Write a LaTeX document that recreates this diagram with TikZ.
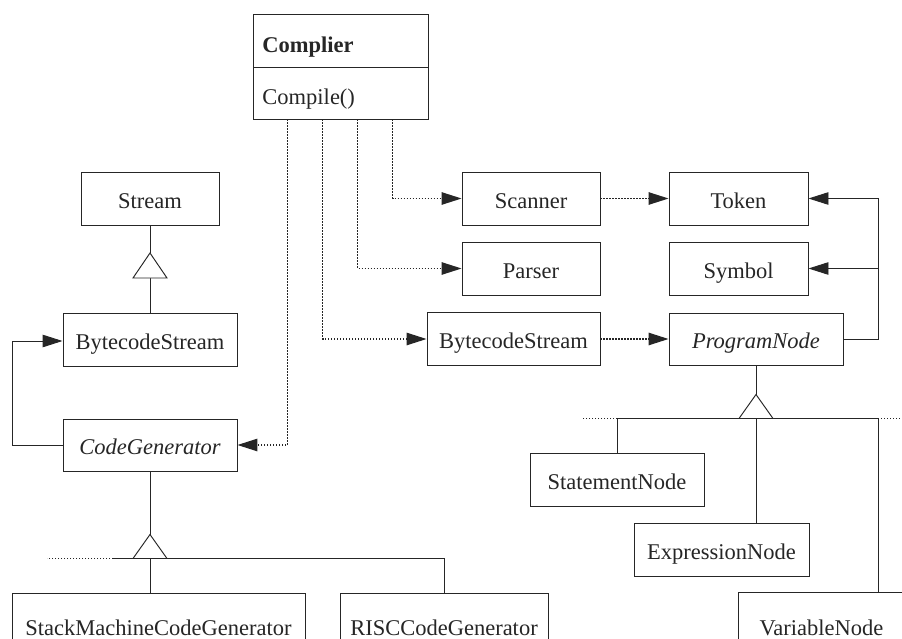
\documentclass[tikz,border=0pt]{standalone}
\usepackage{fontspec}
\setmainfont{Liberation Serif}
\usetikzlibrary{arrows.meta}
\definecolor{ink}{HTML}{262626}
\begin{document}
\begin{tikzpicture}[x=1pt,y=-1pt,
  line width=0.95pt,
  cls/.style={draw=ink, rectangle, inner sep=0pt, fill=white,
    text height=19.5pt, text depth=0pt,
    font=\fontsize{22.5}{26}\selectfont, text=ink},
  lbl/.style={anchor=base west, inner sep=0pt,
    font=\fontsize{22.5}{26}\selectfont, text=ink},
  link/.style={draw=ink},
  uses/.style={draw=ink, line width=1.1pt, dash pattern=on 1.4pt off 1.6pt},
  tip/.style={-{Triangle[length=20pt,width=12.5pt]}},
  gen/.style={draw=ink, fill=white, line join=miter}
]
\useasboundingbox (0,0) rectangle (902,639);
\clip (0,0) rectangle (902,639);
\fill[white] (0,0) rectangle (902,639);

% --- Compiler facade -------------------------------------------------
\node[cls, minimum width=175pt, minimum height=53pt] (compname) at (340.5,40.5) {};
\node[cls, minimum width=175pt, minimum height=52pt] (compops) at (340.5,93) {};
\node[lbl] (compnamelbl) at (262,53) {\bfseries Complier};
\node[lbl] (compopslbl) at (262,105) {Compile()};

% --- subsystem classes ------------------------------------------------
\node[cls, minimum width=138pt, minimum height=53pt] (stream)  at (150,199) {Stream};
\node[cls, minimum width=174pt, minimum height=53pt] (bsl)     at (150,339.5) {BytecodeStream};
\node[cls, minimum width=174pt, minimum height=52pt] (codegen) at (150,445) {\itshape CodeGenerator};

\node[cls, minimum width=138pt, minimum height=53pt] (scanner) at (531,198.5) {Scanner};
\node[cls, minimum width=138pt, minimum height=53pt] (parser)  at (531,268.5) {Parser};
\node[cls, minimum width=173pt, minimum height=53pt] (bsr)     at (513.5,339) {BytecodeStream};

\node[cls, minimum width=139pt, minimum height=53pt] (token)    at (738.5,198.5) {Token};
\node[cls, minimum width=139pt, minimum height=53pt] (symbol)   at (738.5,268.5) {Symbol};
\node[cls, minimum width=174pt, minimum height=52pt] (prognode) at (756,339) {\itshape ProgramNode};

\node[cls, minimum width=174pt, minimum height=53pt] (stmt)    at (617,479.5) {StatementNode};
\node[cls, minimum width=175pt, minimum height=53pt] (expr)    at (721.5,549.5) {ExpressionNode};
\node[cls, minimum width=167pt, minimum height=68pt] (varnode) at (821.5,626) {VariableNode};

\node[cls, minimum width=293pt, minimum height=66pt] (stack) at (158.5,626) {StackMachineCodeGenerator};
\node[cls, minimum width=208pt, minimum height=66pt] (risc)  at (444,626) {RISCCodeGenerator};

% --- dependencies of the compiler ------------------------------------
\coordinate (d1) at ([xshift=35pt]compops.south west);
\coordinate (d2) at ([xshift=70pt]compops.south west);
\coordinate (d3) at ([xshift=105pt]compops.south west);
\coordinate (d4) at ([xshift=140pt]compops.south west);

\draw[uses, tip] (d4) |- (scanner.west);
\draw[uses, tip] (d3) |- (parser.west);
\draw[uses, tip] (d2) |- (bsr.west);
\draw[uses, tip] (d1) |- (codegen.east);

\draw[uses, tip] (scanner.east) -- (token.west);
\draw[uses, tip] (bsr.east) -- (prognode.west);

% --- associations ----------------------------------------------------
\coordinate (rx) at (878,0);
\coordinate (lx) at (12,0);
\draw[link, tip] (prognode.east) -- (prognode.east -| rx) |- (token.east);
\draw[link, tip] (symbol.east -| rx) -- (symbol.east);
\draw[link, tip] (codegen.west) -- (codegen.west -| lx) |- ([yshift=-1.5pt]bsl.west);

% --- Stream hierarchy --------------------------------------------------
\coordinate (t1) at (150,278);
\path (t1) ++(0,-25) coordinate (t1a);
\draw[link] (stream.south) -- (t1a);
\draw[link] (t1) -- (bsl.north);
\draw[gen] (t1) ++(-17,0) -- (t1a) -- ++(17,25) -- cycle;

% --- CodeGenerator hierarchy -------------------------------------------
\coordinate (t2) at (150,558.5);
\path (t2) ++(0,-24) coordinate (t2a);
\draw[link] (codegen.south) -- (t2a);
\draw[link] (t2) -- (t2 |- stack.north);
\draw[link] (t2) ++(-37,0) -- (t2 -| risc.north) -- (risc.north);
\draw[uses] (t2) ++(-37,0) -- ++(-66,0);
\draw[gen] (t2) ++(-17,0) -- (t2a) -- ++(17,24) -- cycle;

% --- ProgramNode hierarchy ---------------------------------------------
\coordinate (t3) at (756,418.5);
\path (t3) ++(0,-24) coordinate (t3a);
\draw[link] (prognode.south) -- (t3a);
\draw[link] (t3 -| stmt.north) -- (t3 -| rx);
\draw[uses] (t3 -| stmt.north) -- ++(-35,0);
\draw[uses] (t3 -| rx) -- ++(30,0);
\draw[link] (t3 -| stmt.north) -- (stmt.north);
\draw[link] (t3) -- (t3 |- expr.north);
\draw[link] (t3 -| rx) -- (rx |- varnode.north);
\draw[gen] (t3) ++(-17,0) -- (t3a) -- ++(17,24) -- cycle;
\end{tikzpicture}
\end{document}
